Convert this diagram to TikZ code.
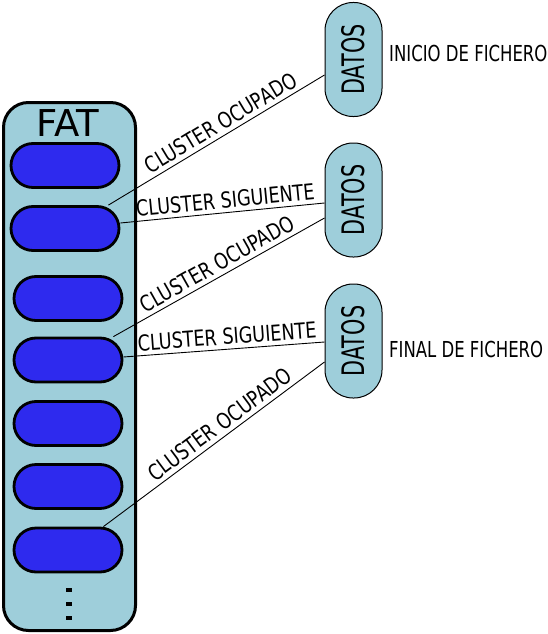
\documentclass[tikz,border=0pt]{standalone}
\usepackage{graphicx}
\usepackage{fontspec}
\setmainfont{DejaVu Sans}
\usepackage{tikz}

\definecolor{celeste}{RGB}{158,206,218}
\definecolor{azulc}{RGB}{46,42,238}
\newcommand{\squeeze}[2]{\scalebox{#1}[1]{#2}}

\begin{document}
\begin{tikzpicture}[x=1pt,y=-1pt,
        fat/.style={draw,line width=3pt,fill=celeste,rounded corners=25pt,minimum width=132pt,minimum height=528pt,inner sep=0pt},
        celda/.style={draw,line width=2.8pt,fill=azulc,rounded corners=22pt,minimum width=108pt,minimum height=44pt,inner sep=0pt},
        datos/.style={draw,line width=1pt,fill=celeste,rounded corners=28pt,minimum width=57pt,minimum height=114pt,inner sep=0pt,font=\fontsize{31}{31}\selectfont},
        etiqueta/.style={font=\fontsize{22}{22}\selectfont,inner sep=4pt},
        enlace/.style={line width=0.9pt}]
                \useasboundingbox (0,0) rectangle (547,634);
                \node[fat] (fat) at (69.5,366.5) {};
                \node[font=\fontsize{37}{37}\selectfont] (titulo) at (68,123) {FAT};
                \foreach \n/\x/\y in {1/65/165.5,2/65/228.5,3/68/298.5,4/68/360,5/68/423.5,6/68/486.5,7/68/550}
                    \node[celda] (c\n) at (\x,\y) {};
                \foreach \y in {590,604,618}
                    \fill (65.5,\y-2) rectangle (71.5,\y+2);
                \node[datos] (d1) at (353.5,59.5) {\rotatebox{90}{\squeeze{0.67}{DATOS}}};
                \node[datos] (d2) at (353.5,200) {\rotatebox{90}{\squeeze{0.67}{DATOS}}};
                \node[datos] (d3) at (353.5,341) {\rotatebox{90}{\squeeze{0.67}{DATOS}}};
                \node[etiqueta,anchor=west] (inicio) at (385,53) {\squeeze{0.75}{INICIO DE FICHERO}};
                \node[etiqueta,anchor=west] (final) at (385,349) {\squeeze{0.75}{FINAL DE FICHERO}};
                \draw[enlace] ([xshift=-12pt]c2.north east) -- ([yshift=-15.5pt]d1.west)
                    node[etiqueta,pos=0.55,above,sloped] {\squeeze{0.8}{CLUSTER OCUPADO}};
                \draw[enlace] ([yshift=5.5pt]c2.east) -- ([yshift=-3pt]d2.west)
                    node[etiqueta,pos=0.52,above,sloped] {\squeeze{0.8}{CLUSTER SIGUIENTE}};
                \draw[enlace] ([xshift=-10pt]c4.north east) -- ([yshift=-18pt]d2.west)
                    node[etiqueta,pos=0.52,above,sloped] {\squeeze{0.8}{CLUSTER OCUPADO}};
                \draw[enlace] ([yshift=3pt]c4.east) -- ([yshift=-1pt]d3.west)
                    node[etiqueta,pos=0.52,above,sloped] {\squeeze{0.8}{CLUSTER SIGUIENTE}};
                \draw[enlace] ([xshift=-20pt]c7.north east) -- ([yshift=-21pt]d3.west)
                    node[etiqueta,pos=0.56,above,sloped] {\squeeze{0.8}{CLUSTER OCUPADO}};
\end{tikzpicture}
\end{document}
